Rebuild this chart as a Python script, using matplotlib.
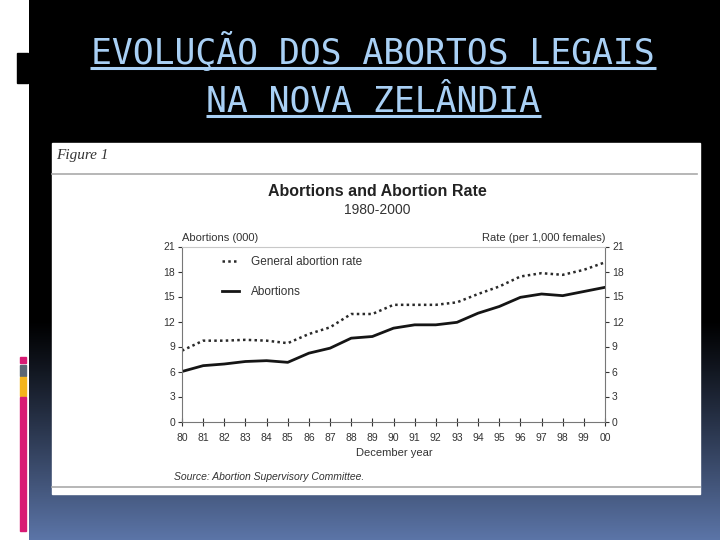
import numpy as np
import matplotlib
matplotlib.use("Agg")
import matplotlib.pyplot as plt
from matplotlib.patches import Rectangle

plt.rcParams['font.family'] = ['Liberation Sans', 'DejaVu Sans']

# Data
years = list(range(1980, 2001))
year_labels = ['80', '81', '82', '83', '84', '85', '86', '87', '88', '89', '90',
               '91', '92', '93', '94', '95', '96', '97', '98', '99', '00']
rate = [8.5, 9.7, 9.7, 9.8, 9.7, 9.4, 10.5, 11.3, 12.9, 12.9, 14.0,
        14.0, 14.0, 14.3, 15.3, 16.2, 17.4, 17.8, 17.6, 18.2, 19.1]
abortions = [6.0, 6.7, 6.9, 7.2, 7.3, 7.1, 8.2, 8.8, 10.0, 10.2, 11.2,
             11.6, 11.6, 11.9, 13.0, 13.8, 14.9, 15.3, 15.1, 15.6, 16.1]
y_ticks = [0, 3, 6, 9, 12, 15, 18, 21]

W, H = 720, 540
fig = plt.figure(figsize=(7.2, 5.4), dpi=100)

# slide background in pixel coordinates
bg = fig.add_axes([0, 0, 1, 1])
rows = np.arange(H)
t = np.clip((rows - 320) / (H - 320), 0, 1) ** 1.1
bottom_col = np.array([0.36, 0.46, 0.66])
img = np.repeat((t[:, None] * bottom_col[None, :])[:, None, :], W, axis=1)
img[:, :29, :] = 1.0
bg.imshow(img, extent=[0, W, H, 0], aspect='auto', interpolation='bilinear')
bg.set_xlim(0, W)
bg.set_ylim(H, 0)
bg.axis('off')

# left decorations
bg.add_patch(Rectangle((17, 53), 11, 30, color='black'))
for y0, h, c in [(357, 6, '#d81b74'), (365, 11, '#5b6673'),
                 (377, 19, '#f4b41c'), (397, 134, '#d81b74')]:
    bg.add_patch(Rectangle((20, y0), 6, h, color=c))

# slide title
title_col = '#a9d0f5'
bg.text(373, 64, 'EVOLUÇÃO DOS ABORTOS LEGAIS', family='DejaVu Sans Mono',
        fontsize=25, color=title_col, ha='center', va='baseline')
bg.text(373.5, 111.7, 'NA NOVA ZELÂNDIA', family='DejaVu Sans Mono',
        fontsize=25, color=title_col, ha='center', va='baseline')
bg.plot([90, 656], [68, 68], color=title_col, lw=2.2, solid_capstyle='butt')
bg.plot([206, 541], [116, 116], color=title_col, lw=2.2, solid_capstyle='butt')

# white figure panel
bg.add_patch(Rectangle((52, 143), 648, 351, color='white'))
bg.plot([52, 697], [173.5, 173.5], color='#aaaaaa', lw=1.2)
bg.plot([52, 700], [487, 487], color='#aaaaaa', lw=1.2)
bg.text(56, 155, 'Figure 1', family='Liberation Serif', style='italic',
        fontsize=11, color='#333333', ha='left', va='center')
bg.text(377, 191, 'Abortions and Abortion Rate', fontsize=11.5, fontweight='bold',
        color='#222222', ha='center', va='center')
bg.text(377, 210, '1980-2000', fontsize=10, color='#333333', ha='center', va='center')
bg.text(182, 238, 'Abortions (000)', fontsize=8, color='#333333', ha='left', va='center')
bg.text(605, 238, 'Rate (per 1,000 females)', fontsize=8, color='#333333',
        ha='right', va='center')
bg.text(394, 453, 'December year', fontsize=8, color='#333333', ha='center', va='center')
bg.text(174, 477, 'Source: Abortion Supervisory Committee.', fontsize=7.5,
        style='italic', color='#333333', ha='left', va='center')

# chart
ax = fig.add_axes([182 / W, 1 - 421.5 / H, 423 / W, 175 / H])
ax.set_facecolor('none')
ax.plot(years, rate, color='#2a2a2a', lw=1.8, linestyle=(0, (1, 1.3)),
        label='General abortion rate')
ax.plot(years, abortions, color='#151515', lw=2.0, label='Abortions')

ax.set_xlim(1980, 2000)
ax.set_ylim(0, 21)
ax.set_xticks(years)
ax.set_xticklabels(year_labels)
ax.set_yticks(y_ticks)
ax.tick_params(axis='y', left=True, right=True, labelleft=True, labelright=True,
               direction='out', length=3, width=0.8, pad=2, labelsize=7.5,
               colors='#333333')
ax.tick_params(axis='x', direction='inout', length=6, width=0.8, pad=5.5,
               labelsize=7.5, colors='#333333')
for side in ['left', 'right', 'bottom']:
    ax.spines[side].set_color('#777777')
    ax.spines[side].set_linewidth(0.8)
ax.spines['top'].set_color('#c8c8c8')
ax.spines['top'].set_linewidth(0.8)

ax.legend(loc='upper left', bbox_to_anchor=(0.095, 0.945), frameon=False,
          fontsize=8.5, handlelength=1.4, handletextpad=1.0, labelspacing=1.55,
          borderpad=0, borderaxespad=0, labelcolor='#333333')

fig.savefig('out.png', dpi=100)
